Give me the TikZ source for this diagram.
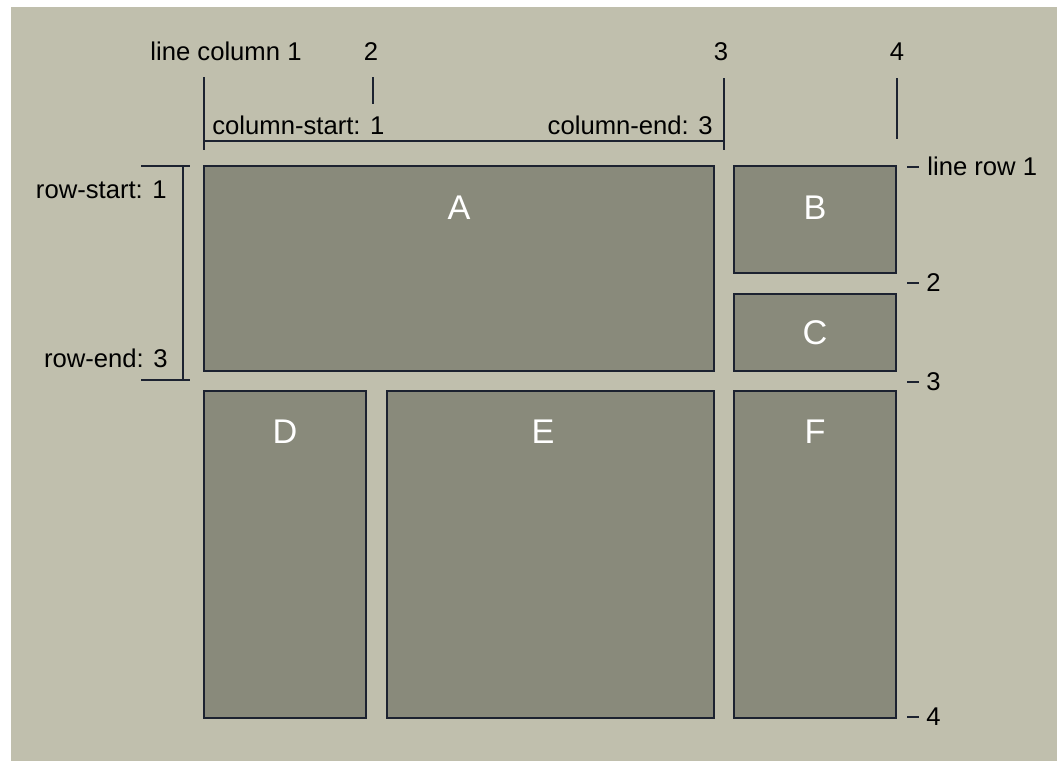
\documentclass[tikz,border=0pt]{standalone}
\usepackage{fontspec}
\setmainfont{Liberation Sans}
\definecolor{paper}{HTML}{C0BFAD}
\definecolor{cellfill}{HTML}{898A7B}
\definecolor{edge}{HTML}{1C2230}
\newcommand{\guidew}{0.04cm}

\begin{document}
\begin{tikzpicture}[x=0.02cm,y=-0.02cm,
    cell/.style={draw=edge, fill=cellfill, line width=\guidew},
    guide/.style={draw=edge, line width=\guidew},
    tag/.style={font=\fontsize{14.6}{17}\selectfont, text=black, inner sep=0pt},
    area/.style={font=\fontsize{19.5}{23}\selectfont, text=white, inner sep=0pt}]

% background
\useasboundingbox (0,0) rectangle (1057,761);
\fill[white] (0,0) rectangle (1057,761);
\fill[paper] (11,7) rectangle (1057,761);

% draw cells
\draw[cell] (204,166) rectangle (714,371);
\draw[cell] (734,166) rectangle (896,273);
\draw[cell] (734,294) rectangle (896,371);
\draw[cell] (204,391) rectangle (366,718);
\draw[cell] (387,391) rectangle (714,718);
\draw[cell] (734,391) rectangle (896,718);

\node[area] (areaA) at (459,208) {A};
\node[area] (areaB) at (815,208) {B};
\node[area] (areaC) at (815,333) {C};
\node[area] (areaD) at (285,432) {D};
\node[area] (areaE) at (543,432) {E};
\node[area] (areaF) at (815,432) {F};

% column lines
\draw[guide] (204,77) -- (204,150);
\draw[guide] (373,77) -- (373,104);
\draw[guide] (724,78) -- (724,150);
\draw[guide] (897,78) -- (897,139);
\draw[guide] (204,141) -- (724,141);

\node[tag, anchor=base] (col1) at (226,60) {line column 1};
\node[tag, anchor=base] (col2) at (371,60) {2};
\node[tag, anchor=base] (col3) at (721,60) {3};
\node[tag, anchor=base] (col4) at (897,60) {4};
\node[tag, anchor=base west] (colstart) at (212,134) {column-start: 1};
\node[tag, anchor=base east] (colend) at (713,134) {column-end: 3};

% row lines
\draw[guide] (141,166) -- (190,166);
\draw[guide] (183,166) -- (183,380);
\draw[guide] (141,380) -- (190,380);
\node[tag, anchor=base east] (rowstart) at (167,198) {row-start: 1};
\node[tag, anchor=base east] (rowend) at (168,367) {row-end: 3};

\draw[guide, line width=0.035cm] (907,167) -- (919,167);
\draw[guide, line width=0.035cm] (907,283) -- (919,283);
\draw[guide, line width=0.035cm] (907,382) -- (919,382);
\draw[guide, line width=0.035cm] (907,717) -- (919,717);
\node[tag, anchor=west] (row1) at (927,166) {line row 1};
\node[tag, anchor=west] (row2) at (926,283) {2};
\node[tag, anchor=west] (row3) at (926,382) {3};
\node[tag, anchor=west] (row4) at (926,717) {4};

\end{tikzpicture}
\end{document}
